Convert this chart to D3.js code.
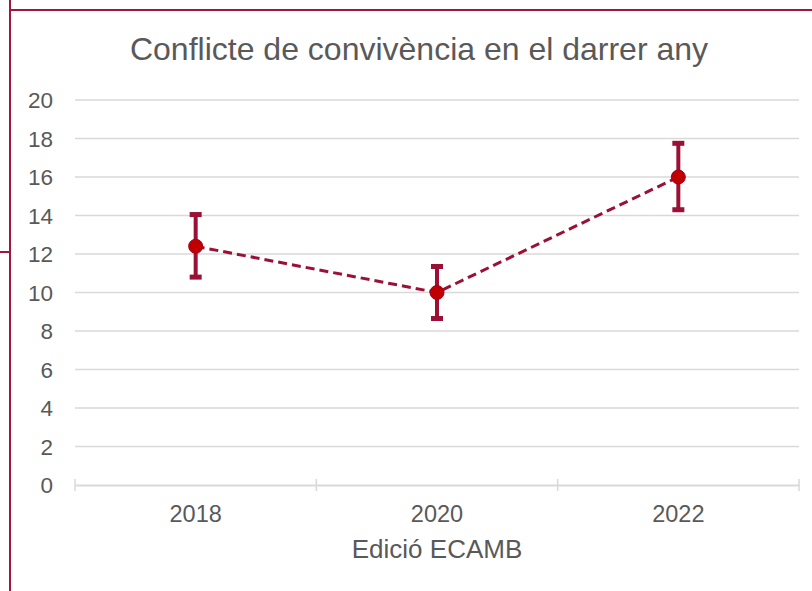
<!DOCTYPE html>
<html><head><meta charset="utf-8">
<script src="https://cdn.jsdelivr.net/npm/d3@7/dist/d3.min.js"></script>
<style>body{margin:0;background:#fff}svg{display:block}</style>
</head><body>
<svg id="c" width="812" height="591"></svg>
<script>
const categories = ["2018", "2020", "2022"];
const values = [12.4, 10.0, 16.0];
const upper = [14.05, 11.35, 17.75];
const lower = [10.8, 8.65, 14.3];
const yTicks = [0, 2, 4, 6, 8, 10, 12, 14, 16, 18, 20];
const title = "Conflicte de convivència en el darrer any";
const xTitle = "Edició ECAMB";

const svg = d3.select("#c");
const font = "'Liberation Sans', Arial, sans-serif";
const txt = "#595959";
const dark = "#9b1035";
const frame = "#a3163c";

// frame lines
svg.append("line").attr("x1", 10).attr("x2", 10).attr("y1", 0).attr("y2", 591).attr("stroke", frame).attr("stroke-width", 2);
svg.append("line").attr("x1", 9).attr("x2", 812).attr("y1", 10).attr("y2", 10).attr("stroke", frame).attr("stroke-width", 2);
svg.append("line").attr("x1", 0).attr("x2", 10).attr("y1", 252).attr("y2", 252).attr("stroke", frame).attr("stroke-width", 2);

const x = d3.scaleBand().domain(categories).range([75, 799]);
const y = d3.scaleLinear().domain([0, 20]).range([485, 100]);

// gridlines
svg.append("g").selectAll("line").data(yTicks.filter(d => d > 0)).join("line")
  .attr("x1", 75).attr("x2", 799).attr("y1", d => y(d)).attr("y2", d => y(d))
  .attr("stroke", "#d9d9d9").attr("stroke-width", 1.5);

// y axis labels
const yAxis = d3.axisLeft(y).tickValues(yTicks).tickSize(0).tickPadding(0);
const ga = svg.append("g").attr("transform", "translate(53,0)").call(yAxis);
ga.select(".domain").remove();
ga.selectAll("text").attr("font-family", font).attr("font-size", 22.5).attr("fill", txt).attr("dy", "0.34em");

// x axis
const xAxis = d3.axisBottom(x).tickSize(0).tickPadding(0);
const gx = svg.append("g").attr("transform", "translate(0,485)").call(xAxis);
gx.select(".domain").attr("stroke", "#d9d9d9").attr("stroke-width", 2);
gx.selectAll("text").attr("font-family", font).attr("font-size", 23.5).attr("fill", txt)
  .attr("dy", null).attr("y", 37);
const bounds = categories.map(c => x(c)).concat([x.range()[1]]);
svg.append("g").selectAll("line").data(bounds).join("line")
  .attr("x1", d => d).attr("x2", d => d).attr("y1", 479).attr("y2", 491)
  .attr("stroke", "#d9d9d9").attr("stroke-width", 1.5);

const cx = c => x(c) + x.bandwidth() / 2;

// dashed line
const line = d3.line().x((d, i) => cx(categories[i])).y(d => y(d));
svg.append("path").datum(values).attr("d", line).attr("fill", "none")
  .attr("stroke", dark).attr("stroke-width", 3).attr("stroke-dasharray", "9,5");

// error bars
const eb = svg.append("g");
categories.forEach((c, i) => {
  eb.append("line").attr("x1", cx(c)).attr("x2", cx(c)).attr("y1", y(upper[i])).attr("y2", y(lower[i]))
    .attr("stroke", dark).attr("stroke-width", 4);
  [upper[i], lower[i]].forEach(v => {
    eb.append("line").attr("x1", cx(c) - 6).attr("x2", cx(c) + 6).attr("y1", y(v)).attr("y2", y(v))
      .attr("stroke", dark).attr("stroke-width", 5);
  });
});

// points
svg.append("g").selectAll("circle").data(values).join("circle")
  .attr("cx", (d, i) => cx(categories[i])).attr("cy", d => y(d)).attr("r", 7)
  .attr("fill", "#c00000").attr("stroke", "#a50021").attr("stroke-width", 1);

// titles
svg.append("text").attr("x", 419).attr("y", 60).attr("text-anchor", "middle")
  .attr("font-family", font).attr("font-size", 32).attr("fill", txt).text(title);
svg.append("text").attr("x", 437).attr("y", 558).attr("text-anchor", "middle")
  .attr("font-family", font).attr("font-size", 26).attr("fill", txt).text(xTitle);
</script>
</body></html>
